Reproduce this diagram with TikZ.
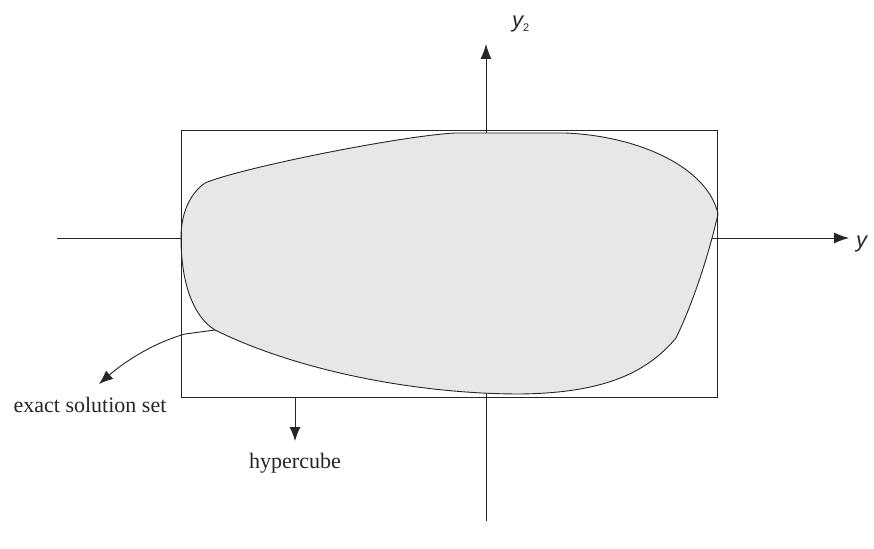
\documentclass[tikz,border=0pt]{standalone}
\usepackage{fontspec}
\setmainfont{Liberation Serif}
\newfontfamily\axisfont{Liberation Sans}
\usetikzlibrary{arrows.meta}
\definecolor{blobgray}{RGB}{230,231,232}
\tikzset{
  axisline/.style={line width=0.9pt, draw=black!85, -{Latex[length=15pt,width=11pt]}},
  plainline/.style={line width=0.9pt, draw=black!85},
  pointer/.style={line width=0.9pt, draw=black!85, -{Latex[length=14pt,width=11pt]}},
  serlabel/.style={font=\fontsize{22}{24}\selectfont, text=black!85, inner sep=0pt},
  axlabel/.style={font=\axisfont\fontsize{22}{24}\selectfont\itshape, text=black!85, inner sep=0pt},
}
\begin{document}
\begin{tikzpicture}[x=1pt,y=-1pt]
\useasboundingbox (0,0) rectangle (874,548);
% axes
\coordinate (hl) at (57,238);
\coordinate (hr) at (849,238);
\coordinate (vb) at (486,521);
\coordinate (vt) at (486,44);
\draw[axisline] (hl) -- (hr);
\draw[axisline] (vb) -- (vt);
% solution set blob
\coordinate (L) at (181,238);
\coordinate (TL) at (205,183);
\coordinate (T1) at (455,133);
\coordinate (T2) at (565,133);
\coordinate (R) at (718,214);
\coordinate (R2) at (676,338);
\coordinate (B) at (520,394);
\coordinate (BL) at (215,330);
\filldraw[fill=blobgray, draw=black!85, line width=0.9pt]
  (L) .. controls (181,210) and (192,192) .. (TL)
  .. controls (240,168) and (400,136) .. (T1)
  -- (T2)
  .. controls (640,136) and (708,168) .. (R)
  .. controls (708,258) and (692,305) .. (R2)
  .. controls (645,375) and (600,393) .. (B)
  .. controls (420,394) and (300,372) .. (BL)
  .. controls (192,316) and (181,280) .. (L) -- cycle;
% hypercube
\draw[plainline] (181,130) rectangle (717,397);
% labels
\node[axlabel, anchor=base west] (y2) at (512,28) {y\textsubscript{\upshape\fontsize{11}{12}\selectfont 2}};
\node[axlabel, anchor=base west] (y1) at (856,247) {y};
\node[serlabel, anchor=base] (ess) at (90,412) {exact solution set};
\node[serlabel, anchor=base] (hc) at (295,468) {hypercube};
% pointers
\coordinate (hcs) at (295,397);
\draw[pointer] (hcs) -- (295,441) coordinate (hce);
\coordinate (lk) at (185,334);
\draw[pointer] (BL) -- (lk) .. controls (150,344) and (122,364) .. (99,384);
\end{tikzpicture}
\end{document}
